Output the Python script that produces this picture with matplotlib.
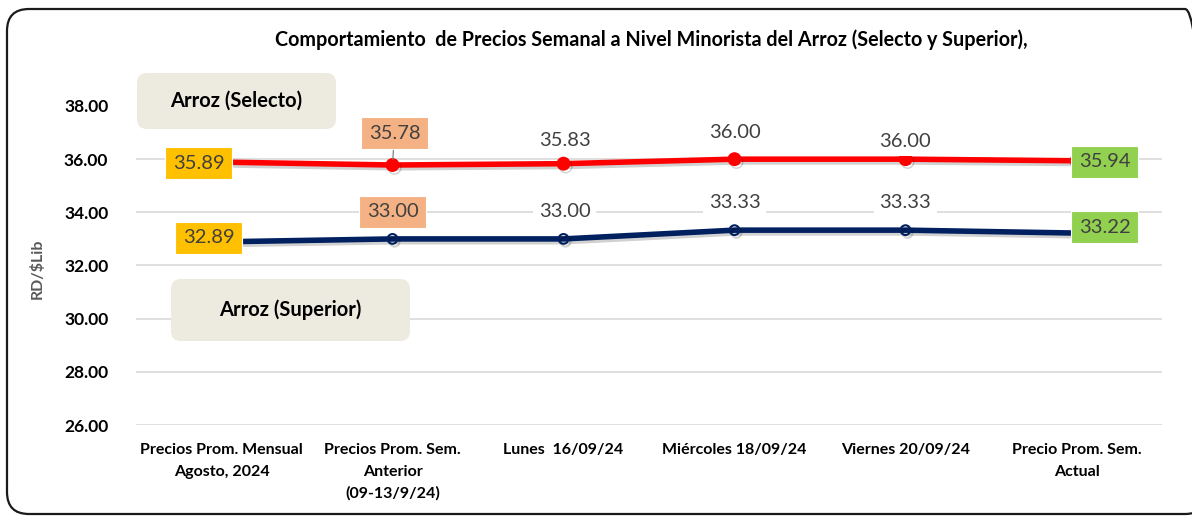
#!/usr/bin/env python3
"""Comportamiento de precios semanal del arroz (Selecto y Superior)."""

import matplotlib
matplotlib.use("Agg")
import matplotlib.pyplot as plt
import matplotlib.patheffects as pe
from matplotlib.patches import FancyBboxPatch
from matplotlib.transforms import IdentityTransform, ScaledTranslation
import numpy as np

categories = [
    "Precios Prom. Mensual\nAgosto, 2024",
    "Precios Prom. Sem.\nAnterior\n(09-13/9/24)",
    "Lunes  16/09/24",
    "Miércoles 18/09/24",
    "Viernes 20/09/24",
    "Precio Prom. Sem.\nActual",
]
selecto = [35.89, 35.78, 35.83, 36.00, 36.00, 35.94]
superior = [32.89, 33.00, 33.00, 33.33, 33.33, 33.22]
yticks = [26, 28, 30, 32, 34, 36, 38]

title = "Comportamiento  de Precios Semanal a Nivel Minorista del Arroz (Selecto y Superior),"
ylabel = "RD/$Lib"

FONT = ["Lato", "DejaVu Sans"]
plt.rcParams["font.family"] = FONT

RED = "#FF0000"
NAVY = "#002060"
YELLOW = "#FFC000"
SALMON = "#F4B183"
GREEN = "#92D050"
LABEL_GRAY = "#404040"

W, H = 1192, 516
fig = plt.figure(figsize=(W / 100, H / 100), dpi=100)
ax = fig.add_axes([136 / W, 1 - 425 / H, (1162 - 136) / W, (425 - 106) / H])

x = np.arange(len(categories))
shadow = [pe.SimpleLineShadow(offset=(1.5, -2), shadow_color="black", alpha=0.18), pe.Normal()]

ax.plot(x, selecto, color=RED, lw=4, marker="o", ms=9, mfc=RED, mec=RED,
        path_effects=shadow, zorder=3)
ax.plot(x, superior, color=NAVY, lw=4, marker="o", ms=7, mfc="none", mec=NAVY,
        mew=1.5, path_effects=shadow, zorder=3)

ax.set_xlim(-0.5, len(categories) - 0.5)
ax.set_ylim(26, 38)
ax.set_yticks(yticks)
ax.set_yticklabels([f"{v:.2f}" for v in yticks], fontsize=12.5, fontweight="bold")
ax.set_xticks(x)
ax.set_xticklabels(categories, fontsize=11.5, fontweight="bold")
for lbl in ax.get_xticklabels():
    lbl.set_linespacing(1.68)
# Excel nudges the first category label to the left
first = ax.get_xticklabels()[0]
first.set_transform(first.get_transform() + ScaledTranslation(-14 / 100, 0, fig.dpi_scale_trans))

ax.tick_params(axis="both", length=0)
ax.tick_params(axis="y", pad=20)
ax.tick_params(axis="x", pad=13)
ax.grid(True, axis="y", color="#D9D9D9", lw=1.2)
ax.get_ygridlines()[-1].set_visible(False)
ax.set_axisbelow(True)
for s in ax.spines.values():
    s.set_visible(False)


def label(xv, yv, text, dx, dy, box=None, leader=False):
    bbox = dict(boxstyle="square,pad=0.3", fc="white", ec="none")
    if box is not None:
        bbox = dict(boxstyle="square,pad=0.38", fc=box, ec="white", lw=0.8)
    arrow = None
    if leader:
        arrow = dict(arrowstyle="-", color="#7F7F7F", lw=0.9, shrinkA=0, shrinkB=4)
    ax.annotate(text, (xv, yv), xytext=(dx, dy), textcoords="offset pixels",
                ha="center", va="center", fontsize=14.5, color=LABEL_GRAY,
                bbox=bbox, arrowprops=arrow, zorder=5)


# Selecto labels
label(x[0], selecto[0], f"{selecto[0]:.2f}", -23, -1, box=YELLOW)
label(x[1], selecto[1], f"{selecto[1]:.2f}", 2, 32, box=SALMON, leader=True)
label(x[2], selecto[2], f"{selecto[2]:.2f}", 1, 23)
label(x[3], selecto[3], f"{selecto[3]:.2f}", 0, 27)
label(x[4], selecto[4], f"{selecto[4]:.2f}", 0, 18)
label(x[5], selecto[5], f"{selecto[5]:.2f}", 28, -1, box=GREEN)

# Superior labels
label(x[0], superior[0], f"{superior[0]:.2f}", -13, 4, box=YELLOW)
label(x[1], superior[1], f"{superior[1]:.2f}", 0, 27, box=SALMON)
label(x[2], superior[2], f"{superior[2]:.2f}", 1, 27)
label(x[3], superior[3], f"{superior[3]:.2f}", 0, 28)
label(x[4], superior[4], f"{superior[4]:.2f}", 0, 28)
label(x[5], superior[5], f"{superior[5]:.2f}", 28, 6, box=GREEN)

# series name boxes (pixel coords, origin bottom-left)
for (bx, by, bw, bh), name in [((137, H - 129, 199, 56), "Arroz (Selecto)"),
                               ((171, H - 341, 239, 62), "Arroz (Superior)")]:
    fig.add_artist(FancyBboxPatch((bx, by), bw, bh,
                                  boxstyle="round,pad=0,rounding_size=10",
                                  transform=IdentityTransform(), fc="#EDEAE0", ec="none",
                                  zorder=4))
    fig.text((bx + bw / 2) / W, (by + bh / 2) / H, name, ha="center", va="center",
             fontsize=14.5, fontweight="bold", color="black", zorder=6)

fig.text(651 / W, 1 - 40 / H, title, ha="center", va="center", fontsize=14.2,
         fontweight="bold", color="black")
fig.text(37 / W, 1 - 269 / H, ylabel, ha="center", va="center", rotation=90,
         fontsize=11.5, fontweight="bold", color="#595959")

# outer rounded frame
fig.add_artist(FancyBboxPatch((7, 2), 1200, 505, boxstyle="round,pad=0,rounding_size=22",
                              transform=IdentityTransform(), fc="none", ec="#1A1A1A",
                              lw=1.6, zorder=10))

fig.savefig("out.png", dpi=100)
plt.close(fig)
